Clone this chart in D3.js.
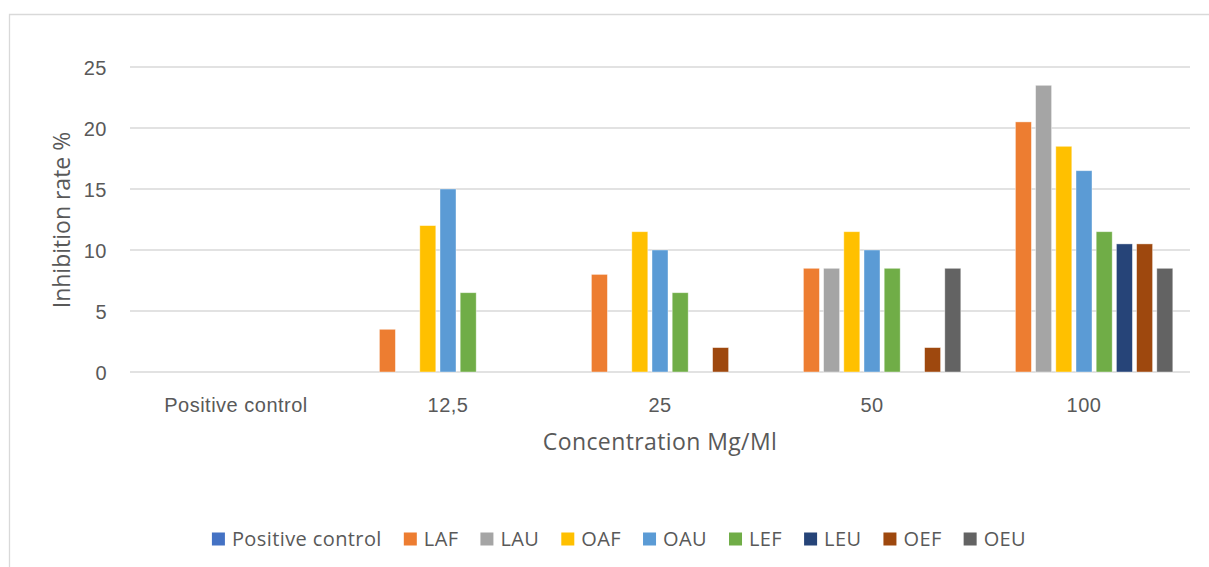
<!DOCTYPE html>
<html>
<head>
<meta charset="utf-8">
<script src="https://cdn.jsdelivr.net/npm/d3@7"></script>
<style>
  html, body { margin: 0; padding: 0; background: #fff; }
  svg { display: block; font-family: "Open Sans", sans-serif; }
</style>
</head>
<body>
<svg id="chart" width="1209" height="567"></svg>
<script>
// Concentration groups along the x axis
const categories = ["Positive control", "12,5", "25", "50", "100"];

// Extract series (inhibition rate %, one value per concentration group)
const seriesNames = ["Positive control", "LAF", "LAU", "OAF", "OAU", "LEF", "LEU", "OEF", "OEU"];
const positiveControl = [0, 0, 0, 0, 0];
const LAF = [0, 3.5, 8, 8.5, 20.5];
const LAU = [0, 0, 0, 8.5, 23.5];
const OAF = [0, 12, 11.5, 11.5, 18.5];
const OAU = [0, 15, 10, 10, 16.5];
const LEF = [0, 6.5, 6.5, 8.5, 11.5];
const LEU = [0, 0, 0, 0, 10.5];
const OEF = [0, 0, 2, 2, 10.5];
const OEU = [0, 0, 0, 8.5, 8.5];
const seriesValues = [positiveControl, LAF, LAU, OAF, OAU, LEF, LEU, OEF, OEU];

const yTicks = [0, 5, 10, 15, 20, 25];

const colors = ["#4472C4", "#ED7D31", "#A5A5A5", "#FFC000", "#5B9BD5",
                "#70AD47", "#264478", "#9E480E", "#636363"];

const svg = d3.select("#chart");
const textColor = "#595959";
const gridColor = "#d9d9d9";

// Chart frame
svg.append("path")
  .attr("d", "M9.5,567 V14.5 H1209")
  .attr("fill", "none")
  .attr("stroke", gridColor)
  .attr("stroke-width", 1.3);

const plot = { left: 130, right: 1190, top: 67, bottom: 372 };

const y = d3.scaleLinear().domain([0, 25]).range([plot.bottom, plot.top]);
const x0 = d3.scaleBand().domain(categories).range([plot.left, plot.right]).padding(0);
const groupW = x0.bandwidth() * 0.8377;
const x1 = d3.scaleBand().domain(seriesNames)
  .range([(x0.bandwidth() - groupW) / 2, (x0.bandwidth() + groupW) / 2])
  .paddingInner(0.208).paddingOuter(0);

// Horizontal gridlines
svg.append("g")
  .selectAll("line")
  .data(yTicks)
  .join("line")
  .attr("x1", plot.left).attr("x2", plot.right)
  .attr("y1", d => y(d)).attr("y2", d => y(d))
  .attr("stroke", gridColor)
  .attr("stroke-width", 1.3);

// Y axis tick labels
const yAxis = d3.axisLeft(y).tickValues(yTicks).tickSize(0).tickPadding(0);
const yg = svg.append("g").attr("transform", "translate(107,0)").call(yAxis);
yg.select(".domain").remove();
yg.selectAll("text")
  .attr("fill", textColor)
  .style("font-size", "20px")
  .style("letter-spacing", "0.5px")
  .attr("dy", "0.36em");

// X axis tick labels
const xAxis = d3.axisBottom(x0).tickSize(0).tickPadding(0);
const xg = svg.append("g").attr("transform", "translate(0,412)").call(xAxis);
xg.select(".domain").remove();
xg.selectAll("text")
  .attr("fill", textColor)
  .attr("y", 0)
  .attr("dy", 0)
  .style("font-size", "20px")
  .style("letter-spacing", "0.5px");

// Bars
const groups = svg.append("g")
  .selectAll("g")
  .data(categories)
  .join("g")
  .attr("transform", d => `translate(${x0(d)},0)`);

groups.selectAll("rect")
  .data((c, ci) => seriesNames.map((s, si) => ({ s, si, v: seriesValues[si][ci] })).filter(d => d.v > 0))
  .join("rect")
  .attr("x", d => x1(d.s))
  .attr("width", x1.bandwidth())
  .attr("y", d => y(d.v))
  .attr("height", d => y(0) - y(d.v))
  .attr("fill", d => colors[d.si])
  .attr("stroke", "#ffffff")
  .attr("stroke-opacity", 0.5)
  .attr("stroke-width", 0.8);

// Axis titles
svg.append("text")
  .attr("x", 660).attr("y", 450)
  .attr("text-anchor", "middle")
  .attr("fill", textColor)
  .style("font-size", "23px")
  .style("letter-spacing", "0.4px")
  .text("Concentration Mg/Ml");

svg.append("text")
  .attr("transform", "translate(70,220) rotate(-90)")
  .attr("text-anchor", "middle")
  .attr("fill", textColor)
  .style("font-size", "23px")
  .text("Inhibition rate %");

// Legend
const legend = svg.append("g");
const items = legend.selectAll("g")
  .data(seriesNames)
  .join("g");
items.append("rect")
  .attr("width", 13).attr("height", 13)
  .attr("y", -6.5)
  .attr("fill", (d, i) => colors[i]);
items.append("text")
  .attr("x", 20)
  .attr("dy", "0.36em")
  .attr("fill", textColor)
  .style("font-size", "20px")
  .style("letter-spacing", "0.4px")
  .text(d => d);

let cursor = 0;
const offsets = [];
items.each(function () {
  const w = d3.select(this).select("text").node().getComputedTextLength();
  offsets.push(cursor);
  cursor += 20 + w + 22;
});
const totalW = cursor - 22;
const legendLeft = 619 - totalW / 2;
items.attr("transform", (d, i) => `translate(${legendLeft + offsets[i]},539)`);
</script>
</body>
</html>
